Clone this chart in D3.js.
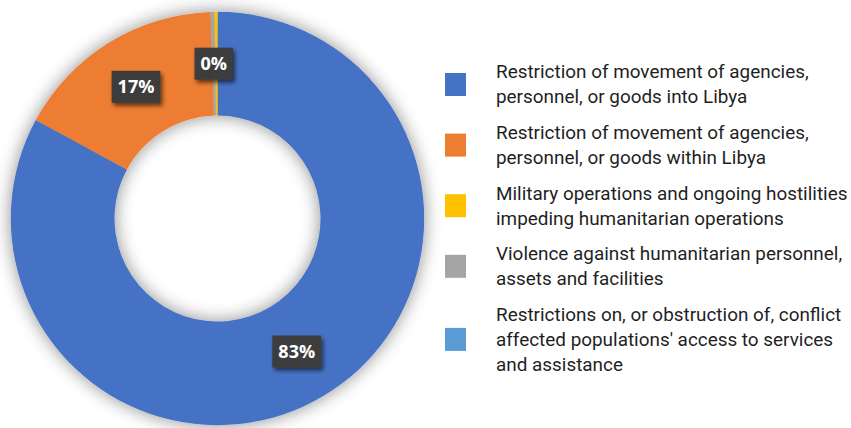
<!DOCTYPE html>
<html>
<head>
<meta charset="utf-8">
<script src="https://cdn.jsdelivr.net/npm/d3@7"></script>
<style>
  html, body { margin: 0; padding: 0; background: #ffffff; }
  svg { display: block; }
</style>
</head>
<body>
<svg id="chart" width="851" height="428"></svg>
<script>
// ---- data ----
const categories = [
  "Restriction of movement of agencies, personnel, or goods into Libya",
  "Restriction of movement of agencies, personnel, or goods within Libya",
  "Military operations and ongoing hostilities impeding humanitarian operations",
  "Violence against humanitarian personnel, assets and facilities",
  "Restrictions on, or obstruction of, conflict affected populations' access to services and assistance"
];
const legendLines = [
  ["Restriction of movement of agencies,", "personnel, or goods into Libya"],
  ["Restriction of movement of agencies,", "personnel, or goods within Libya"],
  ["Military operations and ongoing hostilities", "impeding humanitarian operations"],
  ["Violence against humanitarian personnel,", "assets and facilities"],
  ["Restrictions on, or obstruction of, conflict", "affected populations' access to services", "and assistance"]
];
const values = [82.9, 16.56, 0.23, 0.31, 0];
const colors = ["#4472C4", "#ED7D31", "#FFC000", "#A5A5A5", "#5B9BD5"];
const sliceOrder = [0, 1, 3, 2, 4];
const showLabel = [true, true, false, true, false];

// ---- layout ----
const W = 851, H = 428;
const cx = 217.5, cy = 218.5;
const outerR = 206.7, innerR = 103;

const svg = d3.select("#chart");
const defs = svg.append("defs");

const glow = defs.append("filter").attr("id", "glow")
  .attr("x", "-20%").attr("y", "-20%").attr("width", "140%").attr("height", "140%");
glow.append("feGaussianBlur").attr("in", "SourceAlpha").attr("stdDeviation", 9).attr("result", "b");
glow.append("feComponentTransfer").attr("in", "b").attr("result", "bb")
  .append("feFuncA").attr("type", "linear").attr("slope", 0.45);
const gm = glow.append("feMerge");
gm.append("feMergeNode").attr("in", "bb");
gm.append("feMergeNode").attr("in", "SourceGraphic");

const lblShadow = defs.append("filter").attr("id", "lblShadow")
  .attr("x", "-30%").attr("y", "-30%").attr("width", "160%").attr("height", "170%");
lblShadow.append("feGaussianBlur").attr("in", "SourceAlpha").attr("stdDeviation", 2.2).attr("result", "b");
lblShadow.append("feOffset").attr("in", "b").attr("dx", 2).attr("dy", 3).attr("result", "o");
lblShadow.append("feComponentTransfer").attr("in", "o").attr("result", "oo")
  .append("feFuncA").attr("type", "linear").attr("slope", 0.6);
const lm = lblShadow.append("feMerge");
lm.append("feMergeNode").attr("in", "oo");
lm.append("feMergeNode").attr("in", "SourceGraphic");

const pat = defs.append("pattern").attr("id", "dots")
  .attr("patternUnits", "userSpaceOnUse").attr("width", 4).attr("height", 4);
pat.append("rect").attr("width", 4).attr("height", 4).attr("fill", "#3b3b3b");
pat.append("rect").attr("x", 1).attr("y", 1).attr("width", 1).attr("height", 1).attr("fill", "#4d4d4d");
pat.append("rect").attr("x", 3).attr("y", 3).attr("width", 1).attr("height", 1).attr("fill", "#454545");

defs.append("clipPath").attr("id", "plotClip")
  .append("rect").attr("x", 0).attr("y", 0).attr("width", 443).attr("height", H);

const pie = d3.pie().value(i => values[i]).sort(null);
const arcs = pie(sliceOrder);
const arc = d3.arc().innerRadius(innerR).outerRadius(outerR);

const plot = svg.append("g").attr("clip-path", "url(#plotClip)");
const ring = plot.append("g").attr("transform", `translate(${cx},${cy})`).attr("filter", "url(#glow)");
ring.selectAll("path").data(arcs).join("path")
  .attr("d", arc)
  .attr("fill", d => colors[d.data]);

// data labels
const lg = svg.append("g").attr("transform", `translate(${cx},${cy})`);
arcs.filter(d => showLabel[d.data]).forEach(d => {
  const [x, y] = arc.centroid(d);
  const g = lg.append("g").attr("transform", `translate(${x},${y})`);
  const t = g.append("text")
    .attr("text-anchor", "middle")
    .attr("dy", "0.36em")
    .attr("font-family", "'Open Sans', sans-serif")
    .attr("font-weight", 700)
    .attr("font-size", 18)
    .attr("fill", "#ffffff")
    .text(Math.round(values[d.data]) + "%");
  const bb = t.node().getBBox();
  g.insert("rect", "text")
    .attr("x", bb.x - 6).attr("y", -16)
    .attr("width", bb.width + 12).attr("height", 32)
    .attr("fill", "url(#dots)")
    .attr("filter", "url(#lblShadow)");
});

// legend
const legend = svg.append("g");
const lineH = 25, gap = 10.6;
let yCursor = 78.3;
legendLines.forEach((lines, i) => {
  const g = legend.append("g");
  const midBase = yCursor + (lines.length - 1) * lineH / 2;
  g.append("rect")
    .attr("x", 445).attr("y", midBase - 6.3 - 11.5)
    .attr("width", 21).attr("height", 23)
    .attr("fill", colors[i]);
  const t = g.append("text")
    .attr("font-family", "Roboto, sans-serif")
    .attr("font-size", 18.9)
    .attr("fill", "#1f1f1f");
  lines.forEach((ln, k) => {
    t.append("tspan").attr("x", 496).attr("y", yCursor + k * lineH).text(ln);
  });
  yCursor += lines.length * lineH + gap;
});
</script>
</body>
</html>
